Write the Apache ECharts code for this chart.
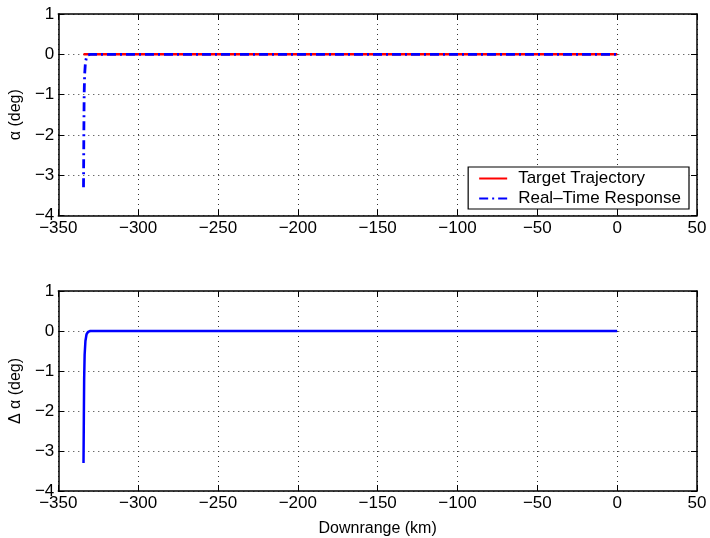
<!DOCTYPE html>
<html>
<head>
<meta charset="utf-8">
<script src="https://cdn.jsdelivr.net/npm/echarts@6/dist/echarts.min.js"></script>
<style>
  html, body { margin: 0; padding: 0; background: #fff; }
  #chart { width: 710px; height: 538px; }
</style>
</head>
<body>
<div id="chart"></div>
<script>
// Downrange positions (km) and angle-of-attack values (deg)
const targetX = [-334.2, 0];
const targetY = [0, 0];

const responseX = [-334.2, -334.0, -333.8, -333.5, -333.0, -332.3, -331.5, -330.0, 0];
const responseY = [-3.3, -2.0, -1.0, -0.5, -0.2, -0.07, -0.02, 0, 0];

const deltaX = [-334.2, -334.0, -333.8, -333.5, -333.0, -332.3, -331.3, -330.0, 0];
const deltaY = [-3.3, -2.2, -1.2, -0.6, -0.25, -0.08, -0.02, 0, 0];

const xTicks = { min: -350, max: 50, interval: 50 };
const yTicks = { min: -4, max: 1, interval: 1 };

const pairs = (xs, ys) => xs.map((x, i) => [x, ys[i]]);
const fmt = v => (v < 0 ? '\u2212' + Math.abs(v) : String(v));

const FONT = '"Liberation Sans", Arial, sans-serif';
const labelStyle = { color: '#000', fontSize: 17, fontFamily: FONT };
const gridLine = { show: true, lineStyle: { color: '#333', width: 1, type: [1, 4] } };

function xAxes(gridIndex, withName) {
  return [
    {
      type: 'value', gridIndex, ...xTicks, position: 'bottom',
      axisLine: { show: true, onZero: false, lineStyle: { color: '#000', width: 1.5 } },
      axisTick: { show: true, inside: true, length: 6, lineStyle: { color: '#000' } },
      axisLabel: { ...labelStyle, margin: 4, formatter: fmt },
      splitLine: gridLine,
      name: withName ? 'Downrange (km)' : '',
      nameLocation: 'middle', nameGap: 30,
      nameTextStyle: { ...labelStyle, fontSize: 16 }
    },
    {
      type: 'value', gridIndex, ...xTicks, position: 'top',
      axisLine: { show: true, onZero: false, lineStyle: { color: '#000', width: 1.5 } },
      axisTick: { show: true, inside: true, length: 6, lineStyle: { color: '#000' } },
      axisLabel: { show: false }, splitLine: { show: false }
    }
  ];
}

function yAxes(gridIndex, name) {
  return [
    {
      type: 'value', gridIndex, ...yTicks, position: 'left',
      axisLine: { show: true, onZero: false, lineStyle: { color: '#000', width: 1.5 } },
      axisTick: { show: true, inside: true, length: 6, lineStyle: { color: '#000' } },
      axisLabel: { ...labelStyle, margin: 4, formatter: fmt },
      splitLine: gridLine,
      name, nameLocation: 'middle', nameGap: 34, nameRotate: 90,
      nameTextStyle: { ...labelStyle, fontSize: 16 }
    },
    {
      type: 'value', gridIndex, ...yTicks, position: 'right',
      axisLine: { show: true, onZero: false, lineStyle: { color: '#000', width: 1.5 } },
      axisTick: { show: true, inside: true, length: 6, lineStyle: { color: '#000' } },
      axisLabel: { show: false }, splitLine: { show: false }
    }
  ];
}

const chart = echarts.init(document.getElementById('chart'), null, { renderer: 'canvas' });
chart.setOption({
  backgroundColor: '#fff',
  animation: false,
  grid: [
    { left: 58, right: 13, top: 14, height: 201.5 },
    { left: 58, right: 13, top: 291, height: 201.5 }
  ],
  xAxis: [...xAxes(0, false), ...xAxes(1, true)],
  yAxis: [...yAxes(0, '\u03b1 (deg)'), ...yAxes(1, '\u0394 \u03b1 (deg)')],
  legend: {
    show: true,
    data: ['Target Trajectory', 'Real\u2013Time Response'],
    orient: 'vertical',
    right: 21, bottom: 329,
    padding: [3, 8, 2, 10],
    itemGap: 3,
    itemWidth: 28, itemHeight: 14,
    backgroundColor: '#fff',
    borderColor: '#000', borderWidth: 1.2, borderRadius: 0,
    itemStyle: { opacity: 0 },
    textStyle: { color: '#000', fontSize: 17, fontFamily: FONT, padding: [0, 0, 0, 6] }
  },
  series: [
    {
      name: 'Target Trajectory', type: 'line', xAxisIndex: 0, yAxisIndex: 0,
      data: pairs(targetX, targetY), showSymbol: false, symbol: 'none',
      lineStyle: { color: '#ff0000', width: 2.5 }, itemStyle: { color: '#ff0000' }, z: 3
    },
    {
      name: 'Real\u2013Time Response', type: 'line', xAxisIndex: 0, yAxisIndex: 0,
      data: pairs(responseX, responseY), showSymbol: false, symbol: 'none',
      lineStyle: { color: '#0000ff', width: 2.8, type: [9, 4, 2, 4] }, itemStyle: { color: '#0000ff' }, z: 4
    },
    {
      name: 'delta', type: 'line', xAxisIndex: 2, yAxisIndex: 2,
      data: pairs(deltaX, deltaY), showSymbol: false, symbol: 'none',
      lineStyle: { color: '#0000ff', width: 2.5 }, itemStyle: { color: '#0000ff' }, z: 3
    }
  ]
});
</script>
</body>
</html>
